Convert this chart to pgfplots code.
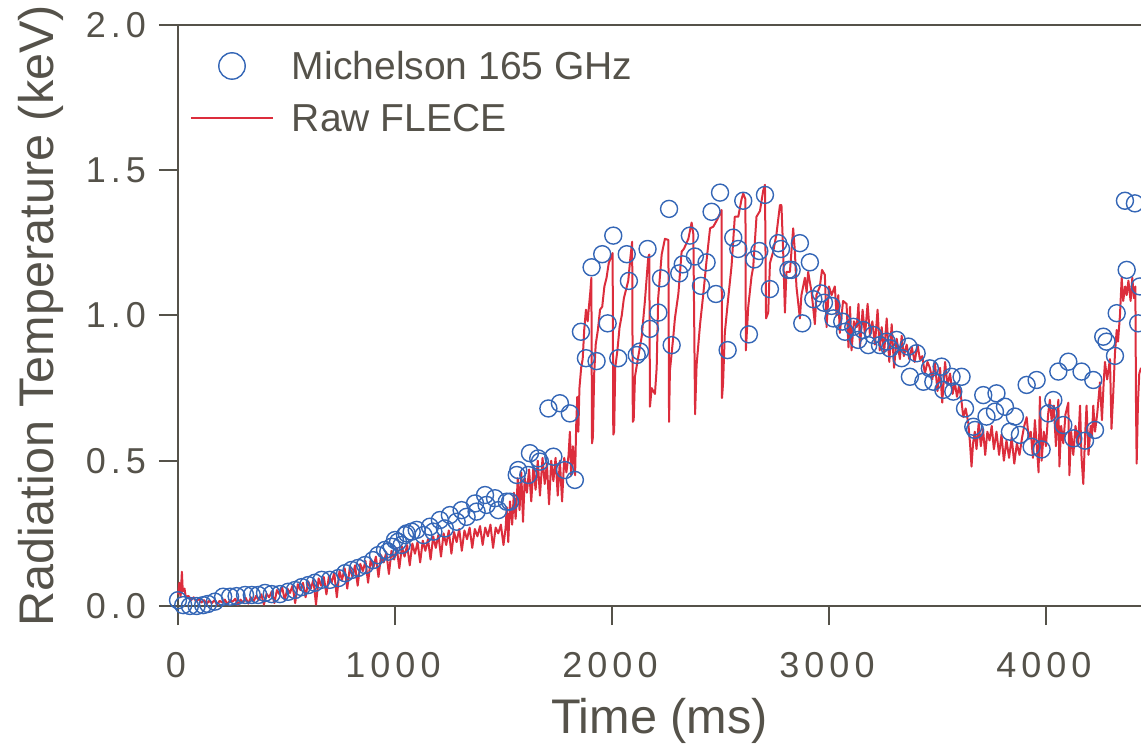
\documentclass[border=0pt]{standalone}
\usepackage{fontspec}
\setmainfont{Liberation Sans}
\newfontfamily\tickfont[LetterSpace=14]{Liberation Sans}
\usepackage{pgfplots}
\pgfplotsset{compat=1.18}
\definecolor{axgray}{HTML}{55524A}
\definecolor{mblue}{HTML}{3466B6}
\definecolor{fred}{HTML}{DC2D3C}
\pgfplotsset{
  redleg/.style={legend image code/.code={\draw[##1] (0pt,0pt) -- (41pt,0pt);}},
  blueleg/.style={legend image code/.code={\path[draw=none] (0pt,0pt) -- (41pt,0pt); \draw[##1, only marks, mark size=6.6pt] plot coordinates {(20.5pt,0pt)};}},
}
\begin{document}
\begin{tikzpicture}
\begin{axis}[
  at={(0,0)}, anchor=south west,
  scale only axis, width=481.5pt, height=290.5pt,
  xmin=0, xmax=4438, ymin=0, ymax=2,
  axis x line*=box, axis y line*=left,
  xtick pos=left, ytick pos=left,
  tick align=outside,
  xtick={0,1000,2000,3000,4000}, xticklabels={0,1000,2000,3000,4000},
  ytick={0,0.5,1,1.5,2}, yticklabels={0.0,0.5,1.0,1.5,2.0},
  minor tick num=0,
  axis line style={axgray, line width=1pt},
  major tick style={axgray, line width=1pt}, major tick length=9.5pt,
  tick label style={font=\tickfont\fontsize{18}{18}\selectfont, text=axgray},
  xticklabel style={yshift=-10pt, xshift=-1pt},
  yticklabel style={xshift=-3pt},
  label style={font=\fontsize{24.3}{25}\selectfont, text=axgray},
  xlabel={Time (ms)}, ylabel={Radiation Temperature (keV)},
  xlabel style={at={(axis description cs:0.5,-0.1975)}, anchor=center, inner sep=0pt},
  ylabel style={at={(axis description cs:-0.1425,0.5)}, anchor=center, inner sep=0pt},
  clip=false,
  reverse legend,
  legend cell align=left,
  legend style={draw=none, fill=none, at={(0,1)}, anchor=north west,
    xshift=6pt, yshift=-13.5pt, inner sep=0pt, outer sep=0pt,
    row sep=12pt, column sep=9pt,
    font=\fontsize{19.5}{20}\selectfont, text=axgray,
    nodes={inner sep=0pt, text height=14pt, text depth=0pt}},
]
\addplot[fred, line width=1pt, no marks, line join=round, redleg] coordinates {
(0,0.04)(6,0.08)(12,0.03)(18,0.118)(22,0.05)(30,0.06)(36,0.03)(48,0.035)(60,0.02)(72,0.03)
(84,0.015)(96,0.025)(108,0.012)(120,0.02)(132,0.008)(144,0.018)(156,0.01)(168,0.02)(180,0.005)(192,0.018)
(204,0.012)(216,0.022)(228,0.006)(240,0.02)(252,0.015)(264,0.025)(276,0.004)(288,0.022)(300,0.012)(312,0.028)
(324,0.008)(336,0.03)(348,0.015)(360,0.035)(372,0.02)(384,0.04)(396,0.005)(408,0.042)(420,0.03)(432,0.05)
(444,0.01)(456,0.055)(468,0.04)(480,0.065)(492,0.02)(504,0.06)(516,0.045)(528,0.07)(540,0.01)(552,0.075)
(564,0.055)(576,0.08)(588,0.03)(600,0.085)(612,0.06)(624,0.09)(636,0.005)(648,0.095)(660,0.07)(672,0.10)
(684,0.04)(696,0.105)(708,0.08)(720,0.115)(732,0.03)(744,0.12)(756,0.09)(768,0.13)(780,0.06)(792,0.135)
(804,0.10)(816,0.14)(828,0.07)(840,0.145)(852,0.12)(864,0.155)(876,0.08)(888,0.16)(900,0.13)(912,0.17)
(924,0.10)(936,0.175)(948,0.15)(960,0.185)(972,0.11)(984,0.19)(996,0.16)(1008,0.20)(1020,0.13)(1032,0.205)
(1044,0.17)(1056,0.21)(1068,0.14)(1080,0.215)(1092,0.18)(1104,0.22)(1116,0.15)(1128,0.225)(1140,0.19)(1152,0.23)
(1164,0.16)(1176,0.24)(1188,0.20)(1200,0.245)(1212,0.17)(1224,0.25)(1236,0.21)(1248,0.26)(1260,0.18)(1272,0.255)
(1284,0.22)(1296,0.265)(1308,0.19)(1320,0.26)(1332,0.23)(1344,0.27)(1356,0.20)(1368,0.265)(1380,0.24)(1392,0.275)
(1404,0.21)(1416,0.27)(1428,0.24)(1440,0.28)(1452,0.20)(1464,0.27)(1476,0.25)(1488,0.28)(1500,0.21)(1510,0.27)
(1515,0.34)(1522,0.22)(1530,0.36)(1540,0.28)(1548,0.39)(1556,0.30)(1566,0.44)(1574,0.33)(1582,0.46)(1590,0.29)
(1598,0.44)(1608,0.39)(1618,0.47)(1628,0.36)(1638,0.48)(1648,0.40)(1658,0.50)(1668,0.38)(1680,0.51)(1690,0.42)
(1700,0.49)(1710,0.35)(1720,0.50)(1730,0.43)(1740,0.51)(1750,0.38)(1760,0.50)(1770,0.36)(1780,0.51)(1790,0.46)
(1800,0.52)(1806,0.60)(1812,0.45)(1820,0.55)
(1830,0.45)(1835,0.62)(1840,0.72)(1845,0.60)(1850,0.75)(1858,0.82)(1865,0.85)(1872,0.95)(1880,1.02)(1888,0.98)
(1895,1.04)(1900,1.08)(1905,1.13)(1908,0.56)(1912,0.58)(1918,0.80)(1925,0.90)(1935,0.95)(1945,1.02)(1955,1.03)
(1965,1.10)(1975,1.13)(1985,1.18)(1995,1.20)(2003,1.215)(2006,0.59)(2010,0.60)(2015,0.82)(2025,0.88)(2035,0.96)
(2045,1.00)(2055,1.06)(2065,1.09)(2075,1.12)(2085,1.20)(2093,1.254)(2096,0.634)(2100,0.64)(2106,0.79)(2121,0.858)
(2137,0.927)(2152,1.052)(2167,1.20)(2172,1.21)(2175,0.686)(2183,0.75)(2198,0.73)(2206,0.82)(2213,1.06)(2229,1.21)
(2244,1.264)(2260,1.26)(2263,0.634)(2267,0.81)(2283,0.93)(2290,0.99)(2306,1.075)(2321,1.22)(2332,1.23)(2352,1.264)
(2367,1.32)(2375,1.28)(2383,0.66)(2390,0.83)(2406,0.97)(2421,1.075)(2436,1.19)(2452,1.30)(2467,1.306)(2485,1.33)
(2505,1.363)(2507,0.716)(2512,0.767)(2520,0.94)(2535,1.055)(2551,1.17)(2566,1.34)(2582,1.34)(2597,1.40)(2605,1.42)
(2615,1.40)(2617,0.88)(2628,1.03)(2643,1.134)(2651,1.168)(2666,1.34)(2682,1.36)(2697,1.43)(2705,1.45)(2710,0.99)
(2720,1.01)(2728,1.18)(2743,1.22)(2758,1.28)(2774,1.38)(2781,1.38)(2789,1.22)(2797,1.01)(2804,1.15)(2820,1.15)
(2835,1.30)(2843,1.22)(2850,1.10)(2866,0.99)(2873,1.07)(2889,1.13)(2897,1.08)(2904,1.15)(2920,1.08)(2935,0.97)
(2942,1.07)(2958,1.10)(2968,1.157)(2981,1.14)(2989,0.96)(3000,1.10)(3012,1.07)(3027,1.10)(3035,1.00)(3043,1.07)
(3050,0.94)(3065,1.05)(3081,1.04)(3090,0.89)(3097,1.03)(3104,0.88)(3115,0.98)(3128,0.96)(3136,1.04)(3143,0.89)
(3155,1.02)(3166,0.93)(3178,1.04)(3189,0.93)(3200,0.98)(3212,0.90)(3224,1.02)(3234,0.88)(3243,0.96)(3254,0.87)
(3266,0.99)(3278,0.84)(3289,0.97)(3300,0.82)(3312,0.92)(3327,0.85)(3335,0.93)(3345,0.86)(3358,0.90)(3370,0.85)
(3382,0.89)(3395,0.84)(3408,0.90)(3419,0.85)(3430,0.86)(3442,0.80)(3454,0.84)(3465,0.82)(3476,0.78)(3488,0.84)
(3500,0.74)(3512,0.82)(3522,0.70)(3535,0.84)(3546,0.76)(3558,0.80)(3570,0.73)(3580,0.77)(3590,0.72)(3600,0.76)
(3610,0.71)(3619,0.65)(3630,0.68)(3642,0.63)(3650,0.56)(3657,0.48)(3664,0.56)(3672,0.60)(3680,0.54)(3690,0.63)
(3700,0.55)(3710,0.61)(3720,0.52)(3730,0.60)(3740,0.57)(3750,0.62)(3760,0.54)(3772,0.60)(3784,0.52)(3795,0.59)
(3806,0.50)(3818,0.57)(3830,0.51)(3842,0.58)(3854,0.49)(3866,0.56)(3878,0.52)(3890,0.58)(3900,0.62)(3911,0.65)
(3920,0.58)(3930,0.60)(3940,0.51)(3949,0.64)(3958,0.55)(3966,0.46)(3972,0.72)(3980,0.50)(3990,0.60)(4000,0.55)
(4010,0.66)(4018,0.71)(4026,0.64)(4036,0.69)(4046,0.55)(4057,0.71)(4062,0.48)(4070,0.62)(4080,0.56)(4090,0.66)
(4103,0.70)(4108,0.45)(4116,0.60)(4126,0.52)(4136,0.62)(4148,0.55)(4157,0.69)(4164,0.51)(4172,0.42)(4180,0.58)
(4187,0.69)(4196,0.52)(4206,0.62)(4212,0.58)(4218,0.69)(4226,0.60)(4236,0.66)(4249,0.77)(4258,0.64)(4266,0.77)
(4272,0.84)(4282,0.78)(4295,0.85)(4302,0.61)(4310,0.73)(4318,0.87)(4326,0.95)(4332,0.91)(4341,1.00)(4349,1.13)
(4356,1.05)(4365,1.10)(4372,1.07)(4380,1.12)(4390,1.05)(4398,1.13)(4405,1.06)(4412,1.10)(4415,0.69)(4418,0.49)
(4424,0.70)(4430,0.80)(4438,0.82)
};
\addlegendentry{Raw FLECE}
\addplot[only marks, mark=o, mark size=4.25pt, mblue, mark options={line width=0.7pt}, blueleg] coordinates {
(0,0.02)(24,0.003)(55,0.0)(86,0.0)(116,0.003)(138,0.007)(170,0.015)(208,0.032)(240,0.032)(270,0.034)
(309,0.038)(340,0.038)(370,0.038)(401,0.045)(432,0.041)(470,0.041)(508,0.049)(539,0.055)(570,0.065)(600,0.072)
(631,0.08)(662,0.09)(700,0.09)(739,0.096)(770,0.113)(800,0.124)(830,0.131)(862,0.141)(899,0.158)(922,0.175)
(954,0.193)(969,0.187)(985,0.204)(1000,0.227)(1014,0.221)(1031,0.21)(1046,0.244)(1054,0.25)(1077,0.256)(1100,0.262)
(1131,0.244)(1161,0.273)(1177,0.256)(1207,0.296)(1230,0.267)(1253,0.313)(1284,0.29)(1307,0.33)(1330,0.307)(1369,0.353)
(1376,0.325)(1415,0.382)(1422,0.348)(1461,0.371)(1476,0.33)(1515,0.359)(1530,0.359)(1561,0.451)(1568,0.468)(1614,0.451)
(1622,0.526)(1660,0.508)(1668,0.497)(1707,0.68)(1730,0.514)(1760,0.698)(1783,0.468)(1806,0.663)(1829,0.434)(1857,0.944)
(1880,0.853)(1906,1.166)(1929,0.843)(1955,1.211)(1980,0.973)(2006,1.275)(2029,0.853)(2068,1.211)(2078,1.119)(2114,0.864)
(2129,0.876)(2164,1.229)(2175,0.954)(2214,1.01)(2226,1.128)(2263,1.367)(2275,0.898)(2310,1.145)(2326,1.176)(2359,1.275)
(2382,1.203)(2410,1.102)(2436,1.183)(2459,1.357)(2479,1.074)(2498,1.423)(2533,0.881)(2559,1.268)(2582,1.229)(2605,1.395)
(2631,0.935)(2656,1.193)(2679,1.222)(2705,1.415)(2728,1.091)(2766,1.249)(2779,1.229)(2813,1.157)(2828,1.157)(2866,1.249)
(2877,0.973)(2912,1.183)(2928,1.056)(2963,1.076)(2977,1.044)(3012,1.033)(3020,0.99)(3061,0.979)(3074,0.944)(3112,0.961)
(3135,0.916)(3158,0.95)(3181,0.898)(3204,0.933)(3235,0.898)(3266,0.91)(3281,0.887)(3312,0.916)(3335,0.853)(3366,0.893)
(3373,0.789)(3404,0.87)(3435,0.772)(3465,0.818)(3481,0.772)(3519,0.824)(3527,0.744)(3565,0.789)(3573,0.738)(3611,0.789)
(3627,0.68)(3665,0.617)(3673,0.606)(3711,0.726)(3726,0.652)(3765,0.669)(3772,0.732)(3811,0.686)(3834,0.6)(3857,0.652)
(3880,0.589)(3911,0.761)(3934,0.548)(3957,0.778)(3980,0.539)(4011,0.663)(4034,0.709)(4057,0.807)(4080,0.623)(4103,0.841)
(4126,0.577)(4164,0.807)(4180,0.569)(4218,0.778)(4226,0.606)(4264,0.927)(4279,0.91)(4318,0.861)(4326,1.008)(4364,1.395)
(4372,1.157)(4410,1.386)(4425,0.973)(4433,1.1)
};
\addlegendentry{Michelson 165 GHz}
\end{axis}
\pgfresetboundingbox
\path (-89pt,-69pt) rectangle (481.5pt,303pt);
\end{tikzpicture}
\end{document}
